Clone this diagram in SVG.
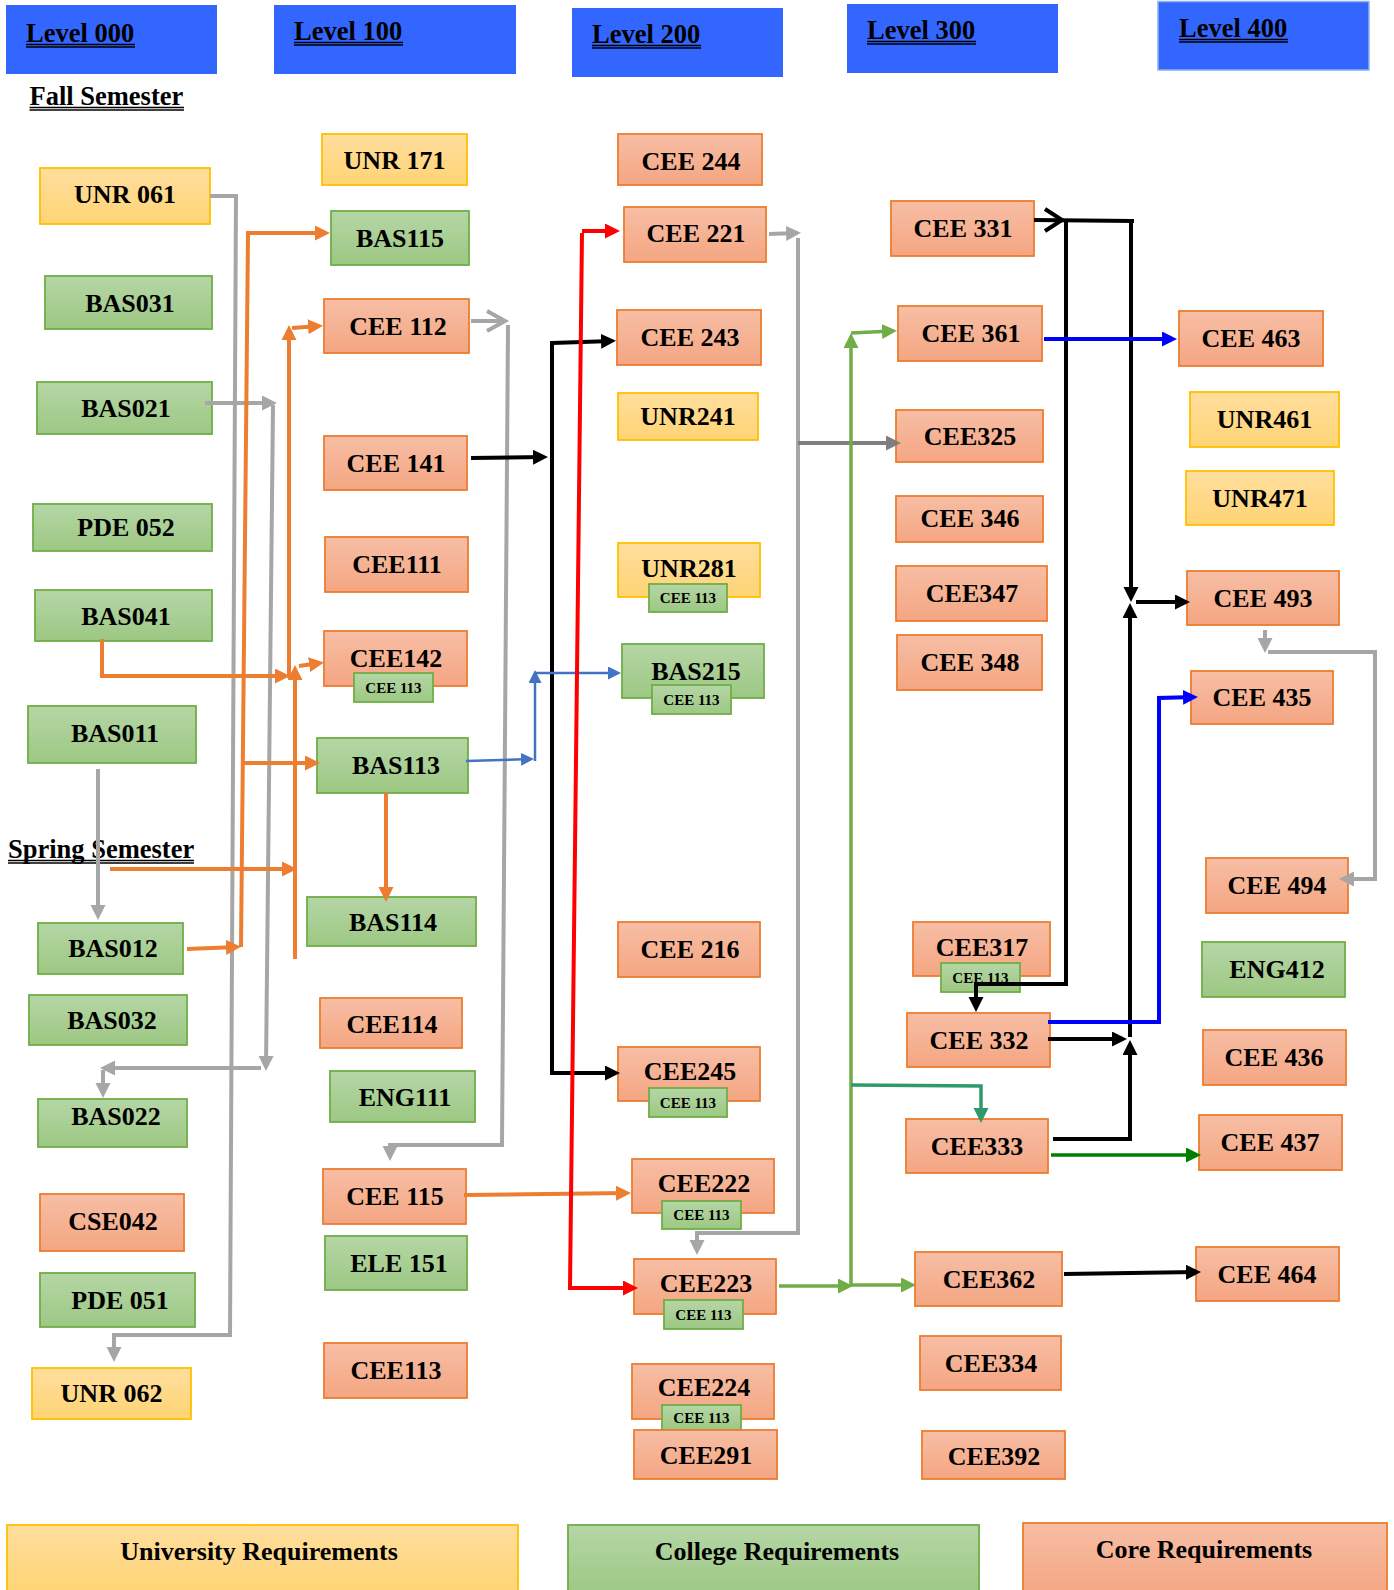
<svg xmlns="http://www.w3.org/2000/svg" width="1394" height="1590" viewBox="0 0 1394 1590">
<style>
.t{font-family:"Liberation Serif","Times New Roman",serif;font-weight:bold;font-size:26px;text-anchor:middle;fill:#000}
.ts{font-family:"Liberation Serif","Times New Roman",serif;font-weight:bold;font-size:15px;text-anchor:middle;fill:#000}
.th{font-family:"Liberation Serif","Times New Roman",serif;font-weight:bold;font-size:26.5px;fill:#000}
.o{fill:url(#gO);stroke:#ED7D31;stroke-width:1.8}
.g{fill:url(#gG);stroke:#70AD47;stroke-width:1.8}
.y{fill:url(#gY);stroke:#FFC000;stroke-width:1.8}
.h{fill:#3366FF}
.ul{stroke:#000;stroke-width:1.6}
.c{fill:none;stroke-width:4;stroke-linejoin:miter}
.cg{stroke:#A6A6A6}
.cdg{stroke:#7F7F7F}
.co{stroke:#ED7D31}
.ck{stroke:#000}
.cb{stroke:#0000FF}
.cb2{stroke:#4472C4;stroke-width:2.5}
.cr{stroke:#FF0000}
.cgr{stroke:#70AD47;stroke-width:3.5}
.ct{stroke:#2E9A6B;stroke-width:3.5}
.cdgr{stroke:#008000;stroke-width:3.5}
</style>
<defs>
<linearGradient id="gO" x1="0" y1="0" x2="0" y2="1"><stop offset="0" stop-color="#F7BEA5"/><stop offset="1" stop-color="#F4A682"/></linearGradient>
<linearGradient id="gG" x1="0" y1="0" x2="0" y2="1"><stop offset="0" stop-color="#B5D6A6"/><stop offset="1" stop-color="#9DC883"/></linearGradient>
<linearGradient id="gY" x1="0" y1="0" x2="0" y2="1"><stop offset="0" stop-color="#FFDE9E"/><stop offset="1" stop-color="#FFD474"/></linearGradient>
<marker id="mG" markerUnits="userSpaceOnUse" markerWidth="16" markerHeight="16" refX="11" refY="7.5" orient="auto"><path d="M0,0 L15,7.5 L0,15 z" fill="#A6A6A6"/></marker>
<marker id="mDG" markerUnits="userSpaceOnUse" markerWidth="16" markerHeight="16" refX="11" refY="7.5" orient="auto"><path d="M0,0 L15,7.5 L0,15 z" fill="#7F7F7F"/></marker>
<marker id="mO" markerUnits="userSpaceOnUse" markerWidth="16" markerHeight="16" refX="11" refY="7.5" orient="auto"><path d="M0,0 L15,7.5 L0,15 z" fill="#ED7D31"/></marker>
<marker id="mK" markerUnits="userSpaceOnUse" markerWidth="16" markerHeight="16" refX="11" refY="7.5" orient="auto"><path d="M0,0 L15,7.5 L0,15 z" fill="#000"/></marker>
<marker id="mB" markerUnits="userSpaceOnUse" markerWidth="16" markerHeight="16" refX="11" refY="7.5" orient="auto"><path d="M0,0 L15,7.5 L0,15 z" fill="#0000FF"/></marker>
<marker id="mB2" markerUnits="userSpaceOnUse" markerWidth="14" markerHeight="14" refX="10" refY="6.5" orient="auto"><path d="M0,0 L13,6.5 L0,13 z" fill="#4472C4"/></marker>
<marker id="mR" markerUnits="userSpaceOnUse" markerWidth="16" markerHeight="16" refX="11" refY="7.5" orient="auto"><path d="M0,0 L15,7.5 L0,15 z" fill="#FF0000"/></marker>
<marker id="mGr" markerUnits="userSpaceOnUse" markerWidth="16" markerHeight="16" refX="11" refY="7.5" orient="auto"><path d="M0,0 L15,7.5 L0,15 z" fill="#70AD47"/></marker>
<marker id="mT" markerUnits="userSpaceOnUse" markerWidth="16" markerHeight="16" refX="11" refY="7.5" orient="auto"><path d="M0,0 L15,7.5 L0,15 z" fill="#2E9A6B"/></marker>
<marker id="mDGr" markerUnits="userSpaceOnUse" markerWidth="16" markerHeight="16" refX="11" refY="7.5" orient="auto"><path d="M0,0 L15,7.5 L0,15 z" fill="#008000"/></marker>
</defs>
<rect width="1394" height="1590" fill="#fff"/>

<!-- headers -->
<g id="h-level000"><rect class="h" x="6" y="5" width="211" height="69"/><text class="th" x="26" y="42">Level 000</text><line class="ul" x1="26" y1="44.5" x2="135" y2="44.5"/><line class="ul" x1="26" y1="47" x2="135" y2="47"/></g>
<g id="h-level100"><rect class="h" x="274" y="5" width="242" height="69"/><text class="th" x="294" y="40">Level 100</text><line class="ul" x1="294" y1="42.5" x2="403" y2="42.5"/><line class="ul" x1="294" y1="45" x2="403" y2="45"/></g>
<g id="h-level200"><rect class="h" x="572" y="8" width="211" height="69"/><text class="th" x="592" y="43">Level 200</text><line class="ul" x1="592" y1="45.5" x2="701" y2="45.5"/><line class="ul" x1="592" y1="48" x2="701" y2="48"/></g>
<g id="h-level300"><rect class="h" x="847" y="4" width="211" height="69"/><text class="th" x="867" y="39">Level 300</text><line class="ul" x1="867" y1="41.5" x2="976" y2="41.5"/><line class="ul" x1="867" y1="44" x2="976" y2="44"/></g>
<g id="h-level400"><rect class="h" x="1158" y="1.5" width="211" height="68.5" stroke="#8FB3E8" stroke-width="1.5"/><text class="th" x="1179" y="37">Level 400</text><line class="ul" x1="1179" y1="39.5" x2="1288" y2="39.5"/><line class="ul" x1="1179" y1="42" x2="1288" y2="42"/></g>
<g id="fall"><text class="th" x="29.5" y="105">Fall Semester</text><line class="ul" x1="29.5" y1="107.5" x2="184" y2="107.5"/><line class="ul" x1="29.5" y1="110" x2="184" y2="110"/></g>
<g id="spring"><text class="th" x="8" y="858">Spring Semester</text><line class="ul" x1="8" y1="860.5" x2="194" y2="860.5"/><line class="ul" x1="8" y1="863" x2="194" y2="863"/></g>

<!-- yellow nodes -->
<g id="n-UNR061"><rect class="y" x="40" y="168" width="170" height="56"/><text class="t" x="125" y="203">UNR 061</text></g>
<g id="n-UNR171"><rect class="y" x="322" y="134" width="145" height="51"/><text class="t" x="394.5" y="169">UNR 171</text></g>
<g id="n-UNR241"><rect class="y" x="618" y="393" width="140" height="47"/><text class="t" x="688" y="425">UNR241</text></g>
<g id="n-UNR281"><rect class="y" x="618" y="543" width="142" height="54"/><text class="t" x="689" y="577">UNR281</text><rect class="g" x="649" y="584" width="78" height="28"/><text class="ts" x="688" y="603">CEE 113</text></g>
<g id="n-UNR461"><rect class="y" x="1190" y="392" width="149" height="55"/><text class="t" x="1264.5" y="428">UNR461</text></g>
<g id="n-UNR471"><rect class="y" x="1186" y="471" width="148" height="54"/><text class="t" x="1260" y="507">UNR471</text></g>
<g id="n-UNR062"><rect class="y" x="32" y="1368" width="159" height="51"/><text class="t" x="111.5" y="1402">UNR 062</text></g>

<!-- green nodes -->
<g id="n-BAS115"><rect class="g" x="331" y="211" width="138" height="54"/><text class="t" x="400" y="247">BAS115</text></g>
<g id="n-BAS031"><rect class="g" x="45" y="276" width="167" height="53"/><text class="t" x="130" y="312">BAS031</text></g>
<g id="n-BAS021"><rect class="g" x="37" y="382" width="175" height="52"/><text class="t" x="126" y="417">BAS021</text></g>
<g id="n-PDE052"><rect class="g" x="33" y="504" width="179" height="47"/><text class="t" x="126" y="536">PDE 052</text></g>
<g id="n-BAS041"><rect class="g" x="35" y="590" width="177" height="51"/><text class="t" x="126" y="625">BAS041</text></g>
<g id="n-BAS011"><rect class="g" x="28" y="706" width="168" height="57"/><text class="t" x="115" y="742">BAS011</text></g>
<g id="n-BAS113"><rect class="g" x="317" y="738" width="151" height="55"/><text class="t" x="396" y="774">BAS113</text></g>
<g id="n-BAS114"><rect class="g" x="307" y="897" width="169" height="49"/><text class="t" x="393" y="931">BAS114</text></g>
<g id="n-BAS012"><rect class="g" x="38" y="923" width="145" height="51"/><text class="t" x="113" y="957">BAS012</text></g>
<g id="n-BAS032"><rect class="g" x="29" y="995" width="158" height="50"/><text class="t" x="112" y="1029">BAS032</text></g>
<g id="n-BAS022"><rect class="g" x="38" y="1099" width="149" height="48"/><text class="t" x="116" y="1125">BAS022</text></g>
<g id="n-PDE051"><rect class="g" x="40" y="1273" width="155" height="54"/><text class="t" x="120" y="1309">PDE 051</text></g>
<g id="n-ENG111"><rect class="g" x="330" y="1071" width="145" height="51"/><text class="t" x="405" y="1106">ENG111</text></g>
<g id="n-ELE151"><rect class="g" x="325" y="1236" width="142" height="54"/><text class="t" x="399" y="1272">ELE 151</text></g>
<g id="n-BAS215"><rect class="g" x="622" y="644" width="142" height="54"/><text class="t" x="696" y="680">BAS215</text><rect class="g" x="652" y="685" width="79" height="29"/><text class="ts" x="691.5" y="705">CEE 113</text></g>
<g id="n-ENG412"><rect class="g" x="1202" y="942" width="143" height="55"/><text class="t" x="1277" y="978">ENG412</text></g>

<!-- orange nodes -->
<g id="n-CEE244"><rect class="o" x="618" y="134" width="144" height="51"/><text class="t" x="691" y="170">CEE 244</text></g>
<g id="n-CEE221"><rect class="o" x="624" y="207" width="142" height="55"/><text class="t" x="696" y="242">CEE 221</text></g>
<g id="n-CEE112"><rect class="o" x="324" y="299" width="145" height="54"/><text class="t" x="398" y="335">CEE 112</text></g>
<g id="n-CEE243"><rect class="o" x="617" y="310" width="144" height="55"/><text class="t" x="690" y="346">CEE 243</text></g>
<g id="n-CEE141"><rect class="o" x="324" y="436" width="143" height="54"/><text class="t" x="396" y="472">CEE 141</text></g>
<g id="n-CEE111"><rect class="o" x="325" y="537" width="143" height="55"/><text class="t" x="397" y="573">CEE111</text></g>
<g id="n-CEE142"><rect class="o" x="324" y="631" width="143" height="55"/><text class="t" x="396" y="667">CEE142</text><rect class="g" x="354" y="673" width="79" height="29"/><text class="ts" x="393.5" y="693">CEE 113</text></g>
<g id="n-CEE216"><rect class="o" x="618" y="922" width="142" height="55"/><text class="t" x="690" y="958">CEE 216</text></g>
<g id="n-CEE114"><rect class="o" x="320" y="998" width="142" height="50"/><text class="t" x="392" y="1033">CEE114</text></g>
<g id="n-CEE245"><rect class="o" x="618" y="1047" width="142" height="54"/><text class="t" x="690" y="1080">CEE245</text><rect class="g" x="649" y="1088" width="78" height="29"/><text class="ts" x="688" y="1108">CEE 113</text></g>
<g id="n-CEE115"><rect class="o" x="323" y="1169" width="143" height="55"/><text class="t" x="395" y="1205">CEE 115</text></g>
<g id="n-CEE222"><rect class="o" x="632" y="1159" width="142" height="54"/><text class="t" x="704" y="1192">CEE222</text><rect class="g" x="662" y="1201" width="79" height="28"/><text class="ts" x="701.5" y="1220">CEE 113</text></g>
<g id="n-CSE042"><rect class="o" x="40" y="1194" width="144" height="57"/><text class="t" x="113" y="1230">CSE042</text></g>
<g id="n-CEE223"><rect class="o" x="634" y="1259" width="142" height="55"/><text class="t" x="706" y="1292">CEE223</text><rect class="g" x="664" y="1300" width="79" height="29"/><text class="ts" x="703.5" y="1320">CEE 113</text></g>
<g id="n-CEE113"><rect class="o" x="324" y="1343" width="143" height="55"/><text class="t" x="396" y="1379">CEE113</text></g>
<g id="n-CEE224"><rect class="o" x="632" y="1364" width="142" height="55"/><text class="t" x="704" y="1396">CEE224</text><rect class="g" x="662" y="1405" width="79" height="25"/><text class="ts" x="701.5" y="1423">CEE 113</text></g>
<g id="n-CEE291"><rect class="o" x="634" y="1430" width="143" height="49"/><text class="t" x="706" y="1464">CEE291</text></g>
<g id="n-CEE331"><rect class="o" x="891" y="201" width="143" height="55"/><text class="t" x="963" y="237">CEE 331</text></g>
<g id="n-CEE361"><rect class="o" x="898" y="306" width="144" height="55"/><text class="t" x="971" y="342">CEE 361</text></g>
<g id="n-CEE325"><rect class="o" x="896" y="410" width="147" height="52"/><text class="t" x="970" y="445">CEE325</text></g>
<g id="n-CEE346"><rect class="o" x="896" y="496" width="147" height="46"/><text class="t" x="970" y="527">CEE 346</text></g>
<g id="n-CEE347"><rect class="o" x="896" y="566" width="151" height="55"/><text class="t" x="972" y="602">CEE347</text></g>
<g id="n-CEE348"><rect class="o" x="897" y="635" width="145" height="55"/><text class="t" x="970" y="671">CEE 348</text></g>
<g id="n-CEE317"><rect class="o" x="913" y="922" width="137" height="54"/><text class="t" x="982" y="956">CEE317</text><rect class="g" x="941" y="963" width="79" height="29"/><text class="ts" x="980.5" y="983">CEE 113</text></g>
<g id="n-CEE332"><rect class="o" x="907" y="1013" width="143" height="54"/><text class="t" x="979" y="1049">CEE 332</text></g>
<g id="n-CEE333"><rect class="o" x="906" y="1119" width="142" height="54"/><text class="t" x="977" y="1155">CEE333</text></g>
<g id="n-CEE362"><rect class="o" x="915" y="1252" width="147" height="54"/><text class="t" x="989" y="1288">CEE362</text></g>
<g id="n-CEE334"><rect class="o" x="920" y="1336" width="141" height="54"/><text class="t" x="991" y="1372">CEE334</text></g>
<g id="n-CEE392"><rect class="o" x="922" y="1431" width="143" height="48"/><text class="t" x="994" y="1465">CEE392</text></g>
<g id="n-CEE463"><rect class="o" x="1179" y="311" width="144" height="55"/><text class="t" x="1251" y="347">CEE 463</text></g>
<g id="n-CEE493"><rect class="o" x="1187" y="571" width="152" height="54"/><text class="t" x="1263" y="607">CEE 493</text></g>
<g id="n-CEE435"><rect class="o" x="1191" y="671" width="142" height="53"/><text class="t" x="1262" y="706">CEE 435</text></g>
<g id="n-CEE494"><rect class="o" x="1206" y="858" width="142" height="55"/><text class="t" x="1277" y="894">CEE 494</text></g>
<g id="n-CEE436"><rect class="o" x="1203" y="1030" width="143" height="55"/><text class="t" x="1274" y="1066">CEE 436</text></g>
<g id="n-CEE437"><rect class="o" x="1199" y="1115" width="143" height="55"/><text class="t" x="1270" y="1151">CEE 437</text></g>
<g id="n-CEE464"><rect class="o" x="1196" y="1247" width="143" height="54"/><text class="t" x="1267" y="1283">CEE 464</text></g>

<!-- legend -->
<g id="legend-university"><rect class="y" x="7" y="1525" width="511" height="70"/><text class="t" x="259" y="1560">University Requirements</text></g>
<g id="legend-college"><rect class="g" x="568" y="1525" width="411" height="70"/><text class="t" x="777" y="1560">College Requirements</text></g>
<g id="legend-core"><rect class="o" x="1023" y="1523" width="364" height="72"/><text class="t" x="1204" y="1558">Core Requirements</text></g>

<!-- connectors -->
<g id="connectors">
<!-- gray -->
<path class="c cg" d="M210,196 H236 L230,1335 H114 V1358" marker-end="url(#mG)"/>
<path class="c cg" d="M205,403 H273" marker-end="url(#mG)"/>
<path class="c cg" d="M273,405 L266,1067" marker-end="url(#mG)"/>
<path class="c cg" d="M261,1068 H104" marker-end="url(#mG)"/>
<path class="c cg" d="M103,1070 V1094" marker-end="url(#mG)"/>
<path class="c cg" d="M98,769 V916" marker-end="url(#mG)"/>
<path class="c cg" d="M471,321 H504"/>
<polyline class="c cg" points="487,311 505,321 487,331"/>
<path class="c cg" d="M508,325 L502,1145 H390 V1157" marker-end="url(#mG)"/>
<path class="c cg" d="M769,234 L797,233" marker-end="url(#mG)"/>
<path class="c cg" d="M798,238 V1233 H697 V1251" marker-end="url(#mG)"/>
<path class="c cdg" d="M798,443 H897" marker-end="url(#mDG)"/>
<path class="c cg" d="M1265,630 V649" marker-end="url(#mG)"/>
<path class="c cg" d="M1268,652 H1375 V879 H1343" marker-end="url(#mG)"/>
<!-- orange -->
<path class="c co" d="M241,947 L248,233 H326" marker-end="url(#mO)"/>
<path class="c co" d="M187,949 L237,947" marker-end="url(#mO)"/>
<path class="c co" d="M241,763 H316" marker-end="url(#mO)"/>
<path class="c co" d="M102,639 V676 H286" marker-end="url(#mO)"/>
<path class="c co" d="M289,678 V329" marker-end="url(#mO)"/>
<path class="c co" d="M292,328 L319,326" marker-end="url(#mO)"/>
<path class="c co" d="M295,959 V669" marker-end="url(#mO)"/>
<path class="c co" d="M299,666 L320,663" marker-end="url(#mO)"/>
<path class="c co" d="M110,869 H293" marker-end="url(#mO)"/>
<path class="c co" d="M386,793 V898" marker-end="url(#mO)"/>
<path class="c co" d="M464,1195 L627,1193" marker-end="url(#mO)"/>
<!-- black -->
<path class="c ck" d="M471,458 L544,457" stroke-width="5" marker-end="url(#mK)"/>
<path class="c ck" d="M552,343 L612,341" marker-end="url(#mK)"/>
<path class="c ck" d="M552,341 V1073 H616" marker-end="url(#mK)"/>
<path class="c ck" d="M1034,220 L1134,221"/>
<polyline class="c ck" points="1045,209 1062,220 1045,231"/>
<path class="c ck" d="M1066,221 V984 H976 V1008" marker-end="url(#mK)"/>
<path class="c ck" d="M1131,221 V598" marker-end="url(#mK)"/>
<path class="c ck" d="M1130,1037 V607" marker-end="url(#mK)"/>
<path class="c ck" d="M1053,1139 H1130 V1044" marker-end="url(#mK)"/>
<path class="c ck" d="M1048,1039 H1123" marker-end="url(#mK)"/>
<path class="c ck" d="M1136,602 H1186" marker-end="url(#mK)"/>
<path class="c ck" d="M1064,1274 L1197,1272" marker-end="url(#mK)"/>
<!-- blue -->
<path class="c cb" d="M1044,339 H1173" marker-end="url(#mB)"/>
<path class="c cb" d="M1048,1022 H1159 V698 L1194,697" marker-end="url(#mB)"/>
<path class="c cb2" d="M466,761 L531,759" marker-end="url(#mB2)"/>
<path class="c cb2" d="M535,761 V673" marker-end="url(#mB2)"/>
<path class="c cb2" d="M535,673 H618" marker-end="url(#mB2)"/>
<!-- red -->
<path class="c cr" d="M582,233 L570,1288 H634" marker-end="url(#mR)"/>
<path class="c cr" d="M582,231 H616" marker-end="url(#mR)"/>
<!-- green -->
<path class="c cgr" d="M779,1286 H849" marker-end="url(#mGr)"/>
<path class="c cgr" d="M851,1286 V337" marker-end="url(#mGr)"/>
<path class="c cgr" d="M851,333 L893,331" marker-end="url(#mGr)"/>
<path class="c cgr" d="M851,1285 H912" marker-end="url(#mGr)"/>
<path class="c ct" d="M851,1085 L981,1086 V1119" marker-end="url(#mT)"/>
<path class="c cdgr" d="M1051,1155 H1197" marker-end="url(#mDGr)"/>
</g>
</svg>
